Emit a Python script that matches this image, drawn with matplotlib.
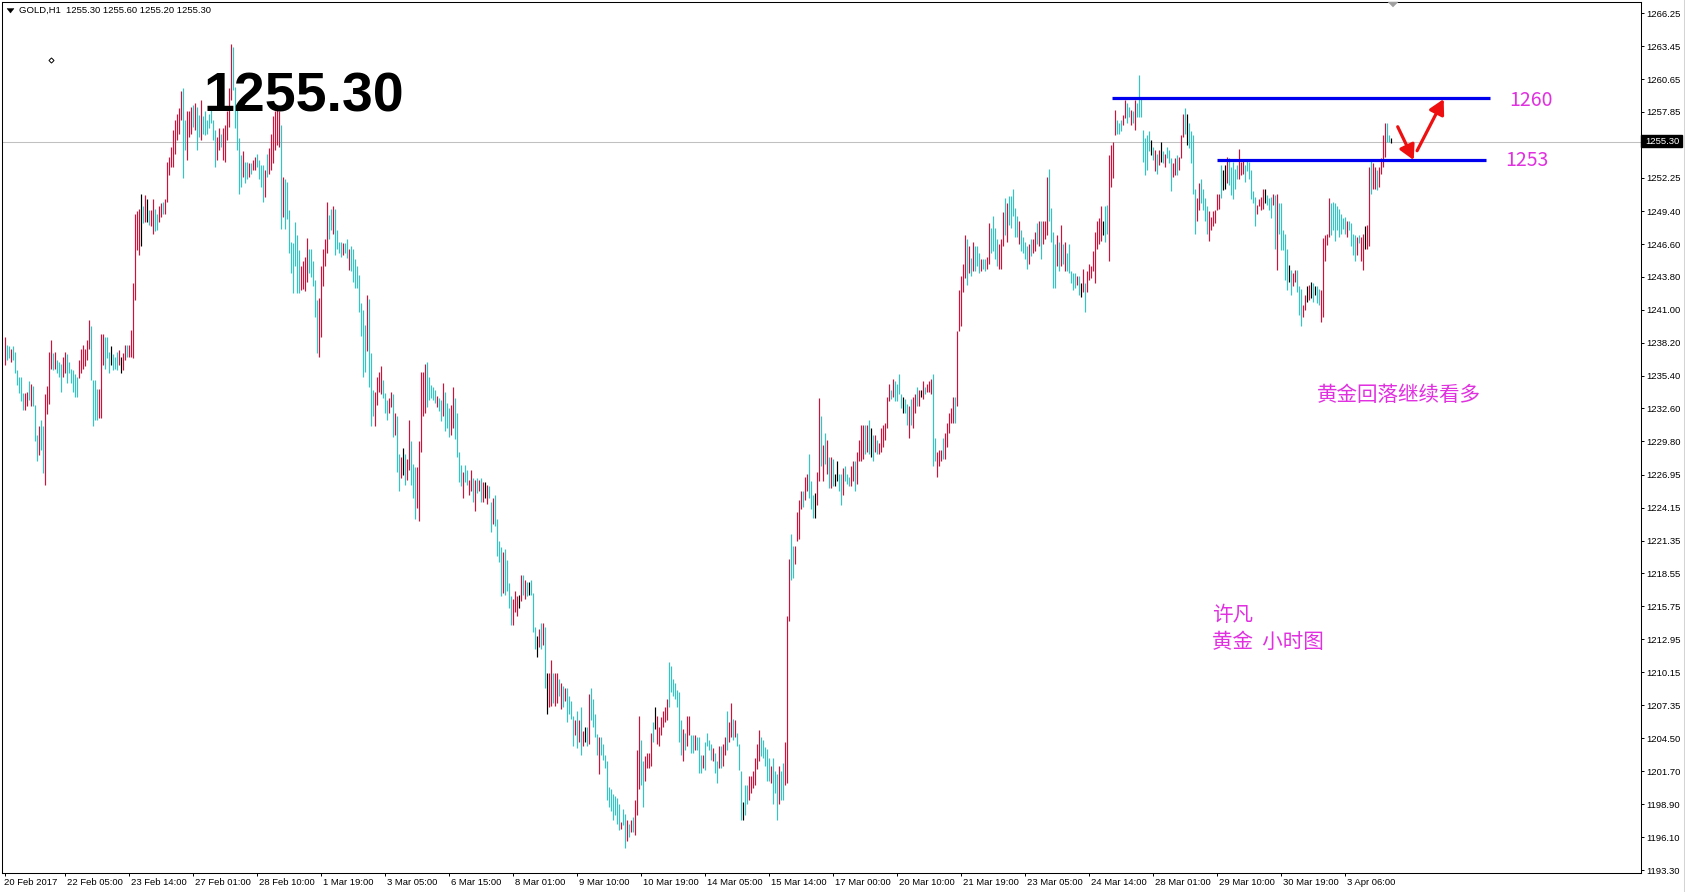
import matplotlib
matplotlib.use('Agg')
import matplotlib.pyplot as plt
from matplotlib.patches import Polygon, Rectangle
from matplotlib.lines import Line2D
from matplotlib.transforms import ScaledTranslation
import numpy as np

# ---------------- data (hourly GOLD bars) ----------------
bar_high = [
    1238.7, 1238.0, 1237.9, 1237.7, 1237.9, 1237.4, 1235.9, 1235.3, 1235.3, 1233.9,
    1233.9, 1234.0, 1234.9, 1234.7, 1234.5, 1232.9, 1230.3, 1231.1, 1231.6, 1231.1,
    1233.8, 1234.5, 1237.4, 1238.4, 1237.3, 1237.4, 1236.7, 1236.6, 1236.4, 1237.0,
    1237.4, 1237.2, 1236.6, 1236.0, 1235.9, 1235.5, 1235.3, 1236.7, 1237.7, 1238.0,
    1237.7, 1238.4, 1240.1, 1239.6, 1235.0, 1235.0, 1234.3, 1234.3, 1238.9, 1238.9,
    1238.7, 1238.7, 1237.4, 1237.9, 1237.2, 1237.0, 1237.4, 1237.6, 1237.0, 1237.3,
    1238.0, 1238.0, 1238.0, 1239.3, 1243.3, 1249.2, 1249.4, 1249.6, 1250.9, 1249.8,
    1250.8, 1250.4, 1249.5, 1249.5, 1250.4, 1249.6, 1249.2, 1249.8, 1250.1, 1250.2,
    1250.4, 1253.6, 1254.0, 1254.9, 1256.3, 1257.2, 1257.7, 1258.2, 1259.6, 1259.9,
    1257.2, 1257.9, 1257.9, 1258.3, 1258.4, 1258.6, 1258.3, 1257.6, 1258.9, 1257.5,
    1257.9, 1257.2, 1257.7, 1258.0, 1257.2, 1256.3, 1255.7, 1256.5, 1256.0, 1256.5,
    1256.7, 1257.9, 1259.9, 1263.6, 1263.4, 1260.0, 1258.3, 1255.6, 1254.2, 1254.5,
    1253.6, 1253.6, 1253.5, 1253.5, 1253.8, 1254.0, 1254.3, 1253.8, 1253.3, 1253.3,
    1252.9, 1254.3, 1254.8, 1256.0, 1257.5, 1257.9, 1258.2, 1257.9, 1256.7, 1252.3,
    1252.1, 1251.9, 1249.5, 1246.8, 1246.7, 1248.5, 1247.4, 1246.1, 1244.7, 1245.2,
    1245.5, 1247.1, 1246.2, 1246.2, 1245.2, 1243.5, 1241.8, 1242.0, 1244.7, 1246.2,
    1247.0, 1250.2, 1249.1, 1249.6, 1249.8, 1249.6, 1247.8, 1246.8, 1246.8, 1246.7,
    1246.7, 1247.0, 1246.2, 1246.4, 1246.2, 1245.3, 1244.7, 1244.0, 1241.6, 1241.0,
    1239.7, 1242.3, 1241.9, 1237.3, 1234.2, 1234.0, 1235.3, 1235.7, 1236.2, 1235.0,
    1233.9, 1233.3, 1233.5, 1234.0, 1233.8, 1232.2, 1232.0, 1228.7, 1228.5, 1229.2,
    1228.7, 1228.3, 1231.6, 1229.8, 1227.9, 1227.6, 1227.6, 1229.8, 1235.7, 1235.7,
    1236.4, 1236.6, 1235.3, 1234.6, 1234.4, 1234.2, 1233.7, 1233.5, 1233.3, 1234.8,
    1234.0, 1233.1, 1232.6, 1232.9, 1234.4, 1233.5, 1232.2, 1228.9, 1227.8, 1227.2,
    1227.8, 1227.4, 1226.5, 1227.4, 1226.7, 1226.5, 1226.7, 1226.5, 1226.7, 1226.3,
    1226.3, 1226.1, 1226.0, 1224.6, 1225.0, 1225.2, 1223.2, 1221.3, 1220.8, 1220.4,
    1220.6, 1219.7, 1217.7, 1216.6, 1216.4, 1217.1, 1216.6, 1216.7, 1218.4, 1218.4,
    1218.0, 1217.8, 1217.8, 1218.0, 1216.9, 1214.0, 1213.2, 1213.8, 1214.3, 1214.3,
    1214.0, 1210.1, 1210.1, 1211.2, 1210.1, 1210.1, 1210.1, 1209.6, 1209.2, 1209.0,
    1208.8, 1208.8, 1208.1, 1207.7, 1206.4, 1206.1, 1206.8, 1206.1, 1207.2, 1205.1,
    1205.5, 1205.5, 1208.3, 1208.8, 1207.9, 1206.6, 1204.9, 1204.6, 1204.6, 1204.0,
    1203.1, 1202.6, 1200.4, 1200.2, 1199.8, 1199.6, 1199.4, 1198.9, 1197.4, 1198.5,
    1198.1, 1197.6, 1197.2, 1197.6, 1197.8, 1199.3, 1203.5, 1206.4, 1204.4, 1202.6,
    1203.0, 1203.3, 1203.3, 1205.0, 1205.9, 1207.2, 1206.4, 1205.5, 1206.3, 1206.8,
    1207.2, 1207.9, 1211.0, 1210.7, 1209.6, 1209.2, 1208.6, 1208.5, 1206.1, 1205.3,
    1205.0, 1206.4, 1206.4, 1204.8, 1204.8, 1204.8, 1204.6, 1204.6, 1203.1, 1203.1,
    1204.2, 1205.0, 1204.4, 1204.0, 1203.7, 1203.3, 1202.6, 1203.9, 1203.9, 1204.0,
    1204.6, 1206.8, 1205.9, 1207.5, 1206.2, 1206.1, 1205.0, 1204.0, 1201.7, 1199.1,
    1200.5, 1200.5, 1201.3, 1201.3, 1201.7, 1202.8, 1204.0, 1205.2, 1204.6, 1204.4,
    1203.8, 1203.6, 1202.8, 1202.2, 1202.8, 1201.7, 1201.5, 1202.2, 1201.7, 1202.4,
    1204.2, 1214.9, 1219.8, 1221.9, 1220.9, 1220.9, 1223.8, 1224.8, 1225.6, 1225.6,
    1226.8, 1227.0, 1228.7, 1226.4, 1225.2, 1225.4, 1227.2, 1233.5, 1232.0, 1229.5,
    1230.5, 1229.9, 1228.5, 1228.5, 1228.3, 1227.0, 1228.1, 1227.0, 1227.0, 1227.5,
    1227.7, 1227.0, 1226.8, 1227.7, 1228.1, 1228.1, 1228.9, 1229.9, 1231.2, 1231.2,
    1231.2, 1231.2, 1231.6, 1230.9, 1230.3, 1230.3, 1229.9, 1229.7, 1230.9, 1231.2,
    1231.4, 1233.6, 1234.7, 1234.2, 1235.1, 1234.9, 1234.7, 1235.5, 1233.8, 1233.6,
    1233.4, 1233.0, 1232.8, 1233.4, 1233.6, 1233.8, 1234.4, 1234.2, 1234.2, 1234.9,
    1234.4, 1234.7, 1234.9, 1235.1, 1235.5, 1230.1, 1228.9, 1229.1, 1229.1, 1230.1,
    1230.5, 1231.4, 1232.2, 1232.6, 1233.6, 1233.6, 1239.2, 1242.7, 1243.9, 1244.9,
    1247.4, 1247.0, 1246.4, 1245.4, 1246.8, 1246.4, 1246.4, 1245.8, 1245.3, 1245.3,
    1245.3, 1245.5, 1248.4, 1248.0, 1249.0, 1248.0, 1247.0, 1246.6, 1247.0, 1249.3,
    1250.5, 1250.1, 1250.7, 1250.7, 1251.3, 1249.7, 1249.0, 1248.6, 1247.8, 1247.2,
    1246.8, 1246.4, 1246.6, 1247.0, 1247.0, 1247.6, 1248.4, 1248.6, 1248.6, 1248.6,
    1248.6, 1252.3, 1253.0, 1249.7, 1247.6, 1246.6, 1247.4, 1246.8, 1248.2, 1246.6,
    1246.8, 1245.8, 1246.6, 1244.3, 1244.1, 1244.1, 1243.9, 1243.9, 1243.3, 1244.5,
    1243.3, 1244.3, 1244.9, 1244.7, 1246.0, 1247.6, 1248.6, 1248.8, 1249.8, 1248.6,
    1249.8, 1249.9, 1254.2, 1255.0, 1255.3, 1258.0, 1257.2, 1256.9, 1257.2, 1257.6,
    1258.9, 1258.6, 1258.3, 1258.0, 1257.9, 1258.9, 1258.6, 1261.0, 1259.0, 1256.3,
    1255.6, 1255.9, 1256.2, 1255.5, 1254.9, 1254.6, 1254.3, 1254.6, 1255.3, 1254.5,
    1254.3, 1254.9, 1254.6, 1253.9, 1253.5, 1253.9, 1254.2, 1254.0, 1255.9, 1257.7,
    1258.2, 1257.7, 1256.9, 1256.2, 1255.9, 1251.3, 1250.5, 1251.8, 1252.1, 1251.3,
    1250.5, 1249.8, 1249.4, 1248.9, 1249.4, 1249.5, 1250.9, 1250.9, 1253.3, 1252.9,
    1253.3, 1254.0, 1253.9, 1253.2, 1253.6, 1253.0, 1253.3, 1254.7, 1253.6, 1253.8,
    1253.3, 1253.8, 1253.6, 1252.9, 1251.1, 1250.6, 1249.9, 1250.4, 1250.6, 1251.3,
    1251.3, 1250.8, 1250.5, 1250.6, 1250.9, 1250.8, 1250.9, 1250.1, 1250.1, 1247.8,
    1247.5, 1246.2, 1244.8, 1244.4, 1244.1, 1244.4, 1244.4, 1243.0, 1242.8, 1241.4,
    1242.3, 1243.0, 1243.1, 1243.4, 1243.3, 1243.0, 1243.0, 1242.8, 1242.7, 1247.1,
    1247.4, 1247.5, 1250.5, 1250.1, 1250.2, 1250.1, 1249.8, 1249.6, 1249.2, 1248.8,
    1248.9, 1248.6, 1248.6, 1248.4, 1247.5, 1247.4, 1247.2, 1247.4, 1247.2, 1247.5,
    1248.1, 1248.2, 1253.2, 1253.8, 1253.5, 1253.2, 1252.9, 1253.2, 1253.9, 1255.9,
    1256.9, 1256.9, 1255.9, 1255.6,
]

bar_low = [
    1236.3, 1236.7, 1236.9, 1236.6, 1236.7, 1235.6, 1234.6, 1233.9, 1233.2, 1232.5,
    1232.5, 1232.8, 1233.3, 1232.8, 1232.8, 1229.8, 1228.1, 1228.6, 1229.1, 1227.1,
    1226.1, 1232.1, 1233.0, 1236.0, 1235.9, 1236.0, 1235.6, 1235.3, 1234.0, 1235.3,
    1235.6, 1234.8, 1235.6, 1234.8, 1234.0, 1233.6, 1233.6, 1235.2, 1235.6, 1236.0,
    1236.2, 1236.7, 1237.7, 1235.0, 1231.1, 1231.6, 1231.6, 1231.8, 1231.8, 1236.3,
    1236.0, 1236.9, 1235.6, 1236.3, 1235.9, 1236.0, 1235.9, 1236.3, 1235.6, 1235.9,
    1236.7, 1237.0, 1237.0, 1237.0, 1236.9, 1241.8, 1246.1, 1245.7, 1246.4, 1248.4,
    1248.5, 1248.5, 1248.2, 1248.1, 1247.5, 1247.7, 1247.8, 1248.5, 1248.9, 1249.2,
    1249.2, 1250.2, 1252.5, 1253.2, 1253.2, 1254.3, 1255.5, 1256.0, 1257.2, 1252.2,
    1254.6, 1253.8, 1255.7, 1256.0, 1256.6, 1256.3, 1254.6, 1255.7, 1255.5, 1256.0,
    1255.9, 1256.0, 1256.5, 1256.9, 1255.5, 1253.2, 1253.8, 1254.6, 1254.9, 1253.8,
    1253.6, 1255.5, 1256.6, 1258.9, 1259.7, 1256.5, 1254.6, 1250.9, 1251.5, 1252.3,
    1251.8, 1252.1, 1252.3, 1252.6, 1252.9, 1252.9, 1253.2, 1252.1, 1251.5, 1250.2,
    1250.6, 1252.3, 1252.6, 1252.9, 1253.5, 1254.6, 1255.0, 1254.9, 1247.9, 1248.9,
    1247.9, 1248.7, 1245.8, 1244.1, 1242.4, 1244.7, 1242.4, 1242.4, 1242.7, 1242.8,
    1242.6, 1243.4, 1244.1, 1243.8, 1243.0, 1240.4, 1237.3, 1237.0, 1238.7, 1243.0,
    1244.7, 1245.8, 1247.0, 1247.8, 1247.5, 1245.7, 1246.2, 1245.8, 1245.5, 1245.7,
    1245.8, 1245.4, 1244.4, 1244.3, 1243.4, 1242.9, 1242.9, 1240.8, 1238.8, 1235.3,
    1235.7, 1237.5, 1234.4, 1231.1, 1232.0, 1231.1, 1232.9, 1234.0, 1233.8, 1233.5,
    1232.2, 1231.6, 1232.2, 1232.7, 1230.2, 1230.3, 1227.2, 1225.6, 1226.7, 1226.9,
    1226.1, 1226.5, 1227.4, 1226.1, 1225.0, 1223.2, 1224.1, 1223.0, 1228.9, 1232.0,
    1232.2, 1232.7, 1233.3, 1233.5, 1233.3, 1233.1, 1232.7, 1232.4, 1231.5, 1232.0,
    1230.7, 1230.9, 1230.2, 1230.3, 1230.9, 1230.0, 1228.5, 1226.3, 1226.0, 1225.0,
    1226.3, 1226.1, 1225.2, 1225.6, 1224.6, 1223.9, 1225.4, 1225.6, 1224.6, 1224.6,
    1225.0, 1224.5, 1225.0, 1222.1, 1222.8, 1222.6, 1220.0, 1219.5, 1216.6, 1216.9,
    1216.7, 1217.1, 1215.6, 1214.2, 1214.2, 1215.3, 1214.9, 1215.6, 1216.2, 1216.7,
    1216.4, 1216.6, 1216.7, 1216.7, 1213.6, 1212.1, 1211.4, 1212.3, 1212.1, 1212.5,
    1208.8, 1206.6, 1207.2, 1207.3, 1207.5, 1207.3, 1207.5, 1208.1, 1207.0, 1207.2,
    1207.7, 1205.9, 1206.6, 1206.2, 1203.9, 1204.8, 1203.7, 1204.2, 1203.1, 1203.9,
    1204.2, 1203.9, 1204.0, 1206.1, 1205.5, 1204.6, 1203.1, 1201.5, 1203.1, 1202.7,
    1202.0, 1199.3, 1198.7, 1198.3, 1197.6, 1198.0, 1197.2, 1196.7, 1196.8, 1197.1,
    1195.2, 1195.8, 1196.1, 1196.5, 1196.5, 1196.3, 1198.0, 1200.2, 1200.5, 1198.7,
    1200.9, 1202.0, 1202.0, 1202.2, 1204.2, 1205.3, 1204.0, 1203.9, 1204.8, 1205.5,
    1205.9, 1206.1, 1207.2, 1208.5, 1208.1, 1207.9, 1207.2, 1204.2, 1203.1, 1202.6,
    1203.5, 1203.9, 1204.8, 1203.3, 1203.3, 1203.5, 1203.5, 1201.6, 1201.6, 1202.0,
    1201.8, 1203.9, 1203.5, 1202.7, 1202.6, 1201.6, 1200.7, 1202.0, 1202.0, 1202.2,
    1203.1, 1203.5, 1204.2, 1204.6, 1204.4, 1204.6, 1203.9, 1201.8, 1197.6, 1197.6,
    1198.0, 1198.9, 1199.3, 1199.9, 1200.3, 1200.5, 1201.9, 1202.6, 1203.0, 1202.8,
    1202.2, 1200.9, 1200.9, 1200.7, 1198.9, 1199.9, 1197.6, 1198.9, 1199.3, 1199.3,
    1200.5, 1200.7, 1214.5, 1218.0, 1218.2, 1219.4, 1221.3, 1221.5, 1224.0, 1224.2,
    1224.8, 1225.6, 1225.0, 1224.0, 1223.3, 1223.3, 1224.4, 1226.4, 1227.7, 1226.4,
    1227.9, 1227.0, 1225.8, 1225.8, 1226.0, 1226.0, 1226.4, 1225.6, 1224.4, 1225.2,
    1226.4, 1226.2, 1226.0, 1226.0, 1226.4, 1225.6, 1226.2, 1228.1, 1228.1, 1228.3,
    1228.7, 1228.9, 1228.7, 1228.5, 1228.1, 1228.9, 1228.7, 1228.7, 1228.9, 1229.3,
    1229.9, 1230.9, 1233.2, 1233.4, 1233.6, 1233.2, 1233.2, 1233.8, 1232.6, 1232.2,
    1232.2, 1231.2, 1230.1, 1231.2, 1230.9, 1232.2, 1232.8, 1232.8, 1233.6, 1233.4,
    1233.8, 1234.0, 1234.0, 1233.8, 1227.7, 1228.1, 1226.8, 1227.7, 1228.1, 1228.3,
    1228.3, 1229.3, 1230.5, 1231.4, 1231.4, 1231.4, 1232.8, 1239.2, 1239.6, 1242.5,
    1243.7, 1243.1, 1244.1, 1243.9, 1244.3, 1244.3, 1244.7, 1244.1, 1244.3, 1244.5,
    1244.3, 1244.5, 1244.9, 1245.8, 1246.0, 1245.3, 1244.7, 1244.5, 1244.5, 1246.4,
    1247.4, 1246.8, 1248.2, 1248.0, 1249.0, 1247.2, 1247.2, 1246.6, 1246.0, 1245.8,
    1245.3, 1244.5, 1244.9, 1245.6, 1245.8, 1246.0, 1246.6, 1246.4, 1245.3, 1246.6,
    1247.0, 1247.4, 1248.6, 1246.8, 1242.9, 1242.9, 1244.7, 1244.3, 1244.7, 1244.9,
    1244.3, 1244.3, 1244.1, 1243.3, 1242.7, 1242.9, 1243.1, 1242.3, 1242.1, 1242.5,
    1240.8, 1242.5, 1243.5, 1243.7, 1244.3, 1243.3, 1246.2, 1246.6, 1246.9, 1247.4,
    1246.8, 1247.5, 1245.2, 1251.5, 1252.2, 1255.9, 1256.0, 1256.0, 1256.2, 1256.7,
    1257.3, 1256.9, 1257.4, 1256.7, 1256.9, 1256.3, 1257.4, 1257.4, 1257.4, 1253.6,
    1252.5, 1252.9, 1254.5, 1254.2, 1253.8, 1252.8, 1252.6, 1253.3, 1253.6, 1253.5,
    1253.2, 1253.9, 1253.5, 1251.1, 1252.3, 1252.5, 1252.5, 1252.9, 1253.9, 1255.7,
    1256.0, 1255.0, 1254.8, 1253.5, 1250.9, 1247.5, 1248.6, 1249.5, 1250.1, 1249.5,
    1248.6, 1247.5, 1246.9, 1247.8, 1248.1, 1248.4, 1249.5, 1249.6, 1250.5, 1251.2,
    1251.3, 1251.8, 1251.6, 1250.8, 1250.4, 1251.3, 1252.1, 1252.1, 1252.5, 1252.6,
    1251.9, 1252.8, 1252.1, 1250.4, 1250.1, 1248.1, 1249.2, 1249.8, 1249.5, 1249.6,
    1250.1, 1249.9, 1249.5, 1248.8, 1249.9, 1246.2, 1244.4, 1247.5, 1246.1, 1246.1,
    1243.5, 1242.7, 1243.4, 1242.3, 1243.0, 1243.4, 1242.5, 1240.6, 1239.6, 1240.4,
    1241.0, 1241.7, 1241.8, 1242.0, 1241.7, 1242.3, 1241.6, 1241.4, 1240.0, 1240.4,
    1245.2, 1246.5, 1247.2, 1247.4, 1247.8, 1246.9, 1247.8, 1247.2, 1247.5, 1247.9,
    1247.5, 1247.2, 1247.8, 1246.4, 1245.7, 1245.2, 1245.7, 1246.7, 1245.2, 1244.4,
    1246.2, 1246.2, 1246.4, 1250.9, 1251.3, 1251.3, 1251.2, 1251.5, 1252.6, 1253.2,
    1254.0, 1255.3, 1255.3, 1255.2,
]

# bar direction, 10 bars per group: u = up bar, d = down bar, n = unchanged
bar_dir_groups = [
    "uddudddddd", "uududddudd", "uuuududddu", "udddddduuu", "uuudddduuu",
    "dddndddunu", "uduuuuuund", "unduudduud", "uuuuuuuuud", "duuududdud",
    "dddddduudu", "uuuudddddu", "dduduudddd", "uduuuuuudu", "dddddddduu",
    "uuddddduuu", "uudduddddu", "dduddddddd", "duddduuuud", "dduududdun",
    "duuddduuuu", "uddddduddu", "ddduuddddu", "dduudududu", "nudduddddu",
    "dddduuunud", "udndddnudu", "dnuuduudud", "uddddududu", "nduddddudd",
    "ddddddddud", "dududuuudd", "uuuudnuuuu", "uudddddddu", "duuddudddu",
    "dddd" + "udd" + "udu", "uduudu" + "dddn", "dduuuuuudd", "dddu" + "dddu" + "dd",
    "uuudduuuud", "uudddnuudu", "dududnnddu", "ddduuduuuu", "dudnduduuu",
    "uuududdddn", "dduduudunu", "duuudduuud", "uuuuuduuuu", "udududddud",
    "duudddduuu", "dudddddudd", "dduduududu", "uuddddudud", "udddd" + "dudnu",
    "duuuuuuuun", "dduuuudddu", "uddud" + "udddd", "dddndudund", "uddduuduuu",
    "dndddduudd", "dduuuuuudn", "nuddd" + "dduuu", "dddddduuuu", "ndddududdd",
    "ddnduudddu", "unund" + "ndduu", "uuuddddddd", "dudddduduu", "nuuduuduuu",
    "uddn",
]
bar_dir = "".join(bar_dir_groups)

price_ticks = [1266.25, 1263.45, 1260.65, 1257.85, 1252.25, 1249.40, 1246.60,
               1243.80, 1241.00, 1238.20, 1235.40, 1232.60, 1229.80, 1226.95,
               1224.15, 1221.35, 1218.55, 1215.75, 1212.95, 1210.15, 1207.35,
               1204.50, 1201.70, 1198.90, 1196.10, 1193.30]

time_labels = ['20 Feb 2017', '22 Feb 05:00', '23 Feb 14:00', '27 Feb 01:00',
               '28 Feb 10:00', '1 Mar 19:00', '3 Mar 05:00', '6 Mar 15:00',
               '8 Mar 01:00', '9 Mar 10:00', '10 Mar 19:00', '14 Mar 05:00',
               '15 Mar 14:00', '17 Mar 00:00', '20 Mar 10:00', '21 Mar 19:00',
               '23 Mar 05:00', '24 Mar 14:00', '28 Mar 01:00', '29 Mar 10:00',
               '30 Mar 19:00', '3 Apr 06:00']
time_label_bars = [0, 30, 62, 94, 126, 158, 190, 222, 254, 286, 318, 350, 382,
                   414, 446, 478, 510, 542, 574, 606, 638, 670]

last_price = 1255.30
header_text = 'GOLD,H1  1255.30 1255.60 1255.20 1255.30'
big_text = '1255.30'
resistance_price, resistance_label = 1259.0, '1260'
support_price, support_label = 1253.76, '1253'
resistance_span = (553.75, 742.75)
support_span = (606.25, 740.75)
arrow_down = ((696.6, 1256.59), (704.6, 1253.75))
arrow_up = ((706.3, 1254.55), (719.6, 1258.95))
note_main = '黄金回落继续看多'
note_author = '许凡'
note_chart = '黄金  小时图'

# ---------------- figure ----------------
W, H, DPI = 1685, 892, 100
plt.rcParams['font.family'] = ['Liberation Sans', 'DejaVu Sans']
fig = plt.figure(figsize=(W / DPI, H / DPI), dpi=DPI)
fig.patch.set_facecolor('white')

L_px, R_px, T_px, B_px = 2, 1641, 2, 873
ax = fig.add_axes([L_px / W, 1 - B_px / H, (R_px - L_px) / W, (B_px - T_px) / H])


def px_to_price(y):
    return 1266.25 - (y - 13.3) / 11.744


ax.set_xlim(-1.25, 818.25)
ax.set_ylim(px_to_price(B_px), px_to_price(T_px))
ax.set_facecolor('white')


def fx(x):
    return x / W


def fy(y):
    return 1 - y / H


# bars
n = min(len(bar_high), len(bar_low))
xs = np.arange(n)
colmap = {'u': '#D0103A', 'd': '#30C6C6', 'n': '#000000'}
cols = [colmap.get(bar_dir[i] if i < len(bar_dir) else 'n', '#000000') for i in range(n)]
ax.vlines(xs, bar_low[:n], bar_high[:n], colors=cols, linewidth=0.85, zorder=3)

# bid line
ax.axhline(last_price, color='#C0C0C0', lw=0.75, zorder=1)

# support / resistance
ax.plot(resistance_span, [resistance_price] * 2, color='#0000EE', lw=2.3,
        solid_capstyle='butt', zorder=4)
ax.plot(support_span, [support_price] * 2, color='#0000EE', lw=2.3,
        solid_capstyle='butt', zorder=4)

for (p0, p1) in (arrow_down, arrow_up):
    ax.annotate('', xy=p1, xytext=p0,
                arrowprops=dict(arrowstyle='-|>,head_length=0.55,head_width=0.3',
                                color='#EE1010', lw=2.3,
                                mutation_scale=16, shrinkA=0, shrinkB=0),
                zorder=5)

# spines / ticks
for s in ax.spines.values():
    s.set_color('black')
    s.set_linewidth(0.75)

ax.yaxis.tick_right()
ax.set_yticks(price_ticks)
ax.set_yticklabels([f'{v:.2f}' for v in price_ticks])
ax.tick_params(axis='y', direction='out', length=2.2, width=0.7, pad=1.5,
               labelsize=6.8, colors='black')

ax.set_xticks(time_label_bars)
ax.set_xticklabels(time_labels, ha='left')
ax.tick_params(axis='x', direction='out', length=2.2, width=0.7, pad=1.5,
               labelsize=6.8, colors='black')
for k, lab in enumerate(ax.get_xticklabels()):
    shift = -0.5 if k == 0 else 2.5
    lab.set_transform(lab.get_transform() + ScaledTranslation(shift / DPI, 0, fig.dpi_scale_trans))

# price box on the right axis
ybox = 141.0
fig.add_artist(Rectangle((fx(1641), fy(ybox + 6)), (1682 - 1641) / W, 12 / H,
                         transform=fig.transFigure, facecolor='black',
                         edgecolor='black', zorder=10))
fig.text(fx(1645), fy(ybox), f'{last_price:.2f}', color='white', fontsize=6.8,
         va='center', ha='left', zorder=11)

# header
fig.add_artist(Polygon([[fx(7), fy(8.5)], [fx(14), fy(8.5)], [fx(10.5), fy(13)]],
                       closed=True, transform=fig.transFigure, facecolor='black',
                       edgecolor='black', lw=0.3))
fig.text(fx(19), fy(10.5), header_text, fontsize=6.8, va='center', ha='left')

# chart-shift marker
fig.add_artist(Polygon([[fx(1388), fy(2)], [fx(1398), fy(2)], [fx(1393), fy(7)]],
                       closed=True, transform=fig.transFigure, facecolor='#A0A0A0',
                       edgecolor='#A0A0A0', lw=0.3))

# small anchor diamond
ax.plot([23.25], [px_to_price(60)], marker='D', ms=2.6, mfc='white', mec='black',
        mew=0.7, zorder=6)

# big price text
fig.text(fx(203), fy(112), big_text, fontsize=40, fontweight='bold',
         va='baseline', ha='left', color='black', zorder=12)

# magenta annotations
mag = '#E030E0'
cjk = ['Noto Sans CJK SC', 'DejaVu Sans']
fig.text(fx(1509), fy(100), resistance_label, color=mag, fontsize=14, va='center',
         ha='left', family=cjk)
fig.text(fx(1505), fy(160), support_label, color=mag, fontsize=14, va='center',
         ha='left', family=cjk)
fig.text(fx(1317), fy(395), note_main, color=mag, fontsize=14.8, va='center',
         ha='left', family=cjk)
fig.text(fx(1212), fy(615), note_author, color=mag, fontsize=14.8, va='center',
         ha='left', family=cjk)
fig.text(fx(1212), fy(642), note_chart, color=mag, fontsize=14.8, va='center',
         ha='left', family=cjk)

# window border at the far right
fig.add_artist(Line2D([fx(1683.5)] * 2, [0, 1], transform=fig.transFigure,
                      color='#D4D4D4', lw=0.75))

fig.savefig('out.png', dpi=DPI, facecolor='white')
